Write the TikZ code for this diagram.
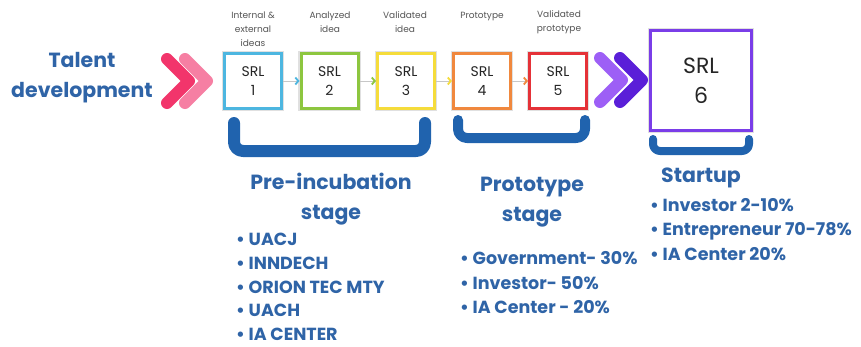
\documentclass[tikz,border=0pt]{standalone}
\usepackage{fontspec}
\setmainfont{Poppins}
\usetikzlibrary{arrows.meta}
\definecolor{blueT}{HTML}{2F64A7}
\definecolor{brk}{HTML}{2063AE}
\definecolor{cCyan}{HTML}{4DB6E0}
\definecolor{cGreen}{HTML}{8DC63F}
\definecolor{cYellow}{HTML}{F5DC3B}
\definecolor{cOrange}{HTML}{F0883E}
\definecolor{cRed}{HTML}{E53238}
\definecolor{cPurple}{HTML}{7A3DE8}
\definecolor{pinkA}{HTML}{F2356B}
\definecolor{pinkB}{HTML}{F67FA3}
\definecolor{purA}{HTML}{9D5FF6}
\definecolor{purB}{HTML}{5A1FD8}
\definecolor{lblgray}{HTML}{555555}
\tikzset{
  srlbox/.style={draw=#1, line width=3pt, minimum width=57pt, minimum height=55pt,
    fill=white, align=center, inner sep=0pt, font=\fontsize{14}{19}\selectfont,
    text=black!85, preaction={draw=black!12, line width=5.5pt}},
  toplbl/.style={font=\fontsize{9}{14}\selectfont, text=lblgray, align=center, inner sep=0pt},
  heading/.style={font=\fontsize{20.5}{30}\selectfont\bfseries, text=blueT, align=center, inner sep=0pt},
  bullet/.style={font=\fontsize{17.5}{18}\selectfont\bfseries, text=blueT, anchor=west, inner sep=0pt,
    text height=12.5pt, text depth=0pt},
  link/.style={draw=black!22, line width=1pt, -{Straight Barb[color=#1, length=3pt, width=7pt, line width=1.8pt]}},
  bracket/.style={draw=brk, line width=#1, line cap=round, line join=round, rounded corners=9pt},
  chev/.style={draw=#1, line width=12pt, line cap=round, line join=round}
}
\begin{document}
\begin{tikzpicture}[x=1pt,y=-1pt]
\useasboundingbox (0,0) rectangle (861,346);
\fill[white] (0,0) rectangle (861,346);

% Talent development
\node[heading] (talent) at (82,78) {Talent\\development};

% pink chevrons
\draw[chev=pinkB] (185,59) -- (207,81) -- (185,103);
\draw[chev=pinkA] (167,59) -- (189,81) -- (167,103);

% boxes
\node[srlbox=cCyan] (b1) at (253,81) {SRL\\1};
\node[srlbox=cGreen] (b2) at (329.5,81) {SRL\\2};
\node[srlbox=cYellow] (b3) at (406,81) {SRL\\3};
\node[srlbox=cOrange] (b4) at (482,81) {SRL\\4};
\node[srlbox=cRed] (b5) at (558,81) {SRL\\5};
\node[srlbox=cPurple, minimum width=101pt, minimum height=100pt, font=\fontsize{22}{30}\selectfont] (b6) at (701,80.5) {SRL\\6};

% links
\draw[link=cCyan] (b1.east) -- (b2.west);
\draw[link=cGreen] (b2.east) -- (b3.west);
\draw[link=cYellow] (b3.east) -- (b4.west);
\draw[link=cOrange] (b4.east) -- (b5.west);

% purple chevrons
\draw[chev=purB] (620,58) -- (642,80) -- (620,102);
\draw[chev=purA] (600,58) -- (622,80) -- (600,102);

% top labels
\node[toplbl] (l1) at (253,29) {Internal \&\\external\\ideas};
\node[toplbl] (l2) at (330,22.5) {Analyzed\\idea};
\node[toplbl] (l3) at (405,22.5) {Validated\\idea};
\node[toplbl] (l4) at (482,17) {Prototype};
\node[toplbl] (l5) at (559,22.5) {Validated\\prototype};

% brackets
\draw[bracket=12pt] (234,123) -- (234,151) -- (425,151) -- (425,123);
\draw[bracket=10pt] (458,120) -- (458,138) -- (585,138) -- (585,120);
\draw[bracket=8pt, rounded corners=7pt] (653,139) -- (653,151) -- (749,151) -- (749,139);

% headings
\node[heading] (h1) at (331,199) {Pre-incubation\\stage};
\node[heading] (h2) at (532,202) {Prototype\\stage};
\node[heading] (h3) at (701,178) {Startup};

% bullets
\node[bullet] (p1) at (236,239) {\textbullet\ UACJ};
\node[bullet] (p2) at (236,263) {\textbullet\ INNDECH};
\node[bullet] (p3) at (236,287) {\textbullet\ ORION TEC MTY};
\node[bullet] (p4) at (236,310.5) {\textbullet\ UACH};
\node[bullet] (p5) at (236,334) {\textbullet\ IA CENTER};

\node[bullet] (q1) at (460,258) {\textbullet\ Government- 30\%};
\node[bullet] (q2) at (460,283) {\textbullet\ Investor- 50\%};
\node[bullet] (q3) at (460,307) {\textbullet\ IA Center - 20\%};

\node[bullet] (s1) at (650,205) {\textbullet\ Investor 2-10\%};
\node[bullet] (s2) at (650,229) {\textbullet\ Entrepreneur 70-78\%};
\node[bullet] (s3) at (650,254) {\textbullet\ IA Center 20\%};
\end{tikzpicture}
\end{document}
